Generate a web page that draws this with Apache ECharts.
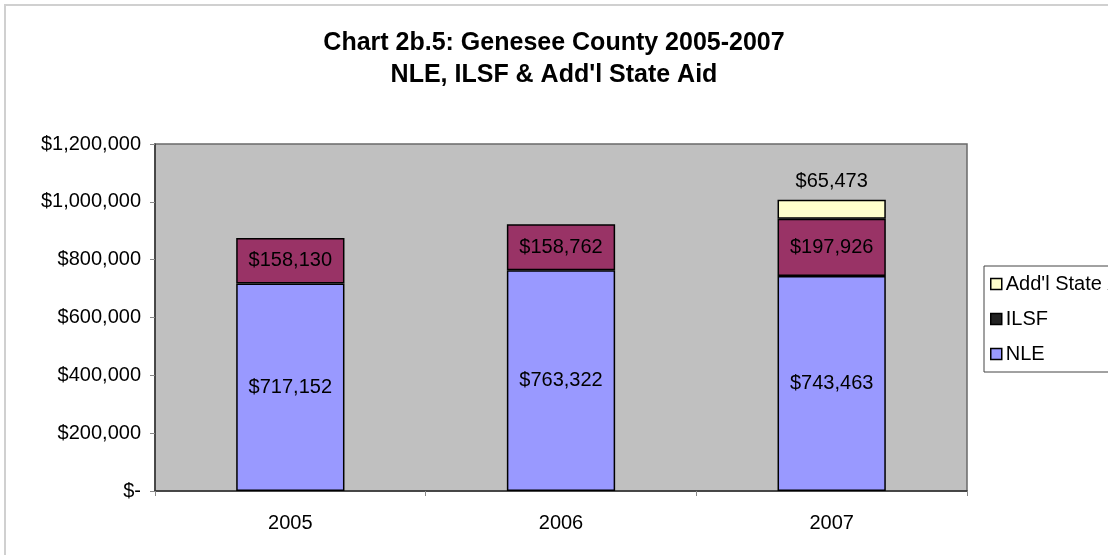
<!DOCTYPE html>
<html>
<head>
<meta charset="utf-8">
<script src="https://cdn.jsdelivr.net/npm/echarts@6/dist/echarts.min.js"></script>
<style>
  html, body { margin: 0; padding: 0; background: #fff; }
  #chart { width: 1108px; height: 555px; }
</style>
</head>
<body>
<div id="chart"></div>
<script>
const years = ['2005', '2006', '2007']
const nle = [717152, 763322, 743463]
const ilsf = [158130, 158762, 197926]
const addlState = [null, null, 65473]

const money = v => '$' + Number(v).toLocaleString('en-US')

const chart = echarts.init(document.getElementById('chart'))
const font = 'Liberation Sans, Arial, sans-serif'

const barBorder = { borderColor: '#000', borderWidth: 1.5 }
const valueLabel = { show: true, fontSize: 20, color: '#000', formatter: p => money(p.value) }

chart.setOption({
  animation: false,
  textStyle: { fontFamily: font },
  title: {
    text: 'Chart 2b.5: Genesee County 2005-2007\nNLE, ILSF & Add\'l State Aid',
    left: 'center',
    top: 22,
    textStyle: { fontSize: 25, fontWeight: 'bold', color: '#000', lineHeight: 32, fontFamily: font }
  },
  graphic: [{
    type: 'rect',
    shape: { x: 5, y: 5, width: 1120, height: 560 },
    style: { fill: 'none', stroke: '#d0d0d0', lineWidth: 2 },
    silent: true
  }],
  legend: {
    orient: 'vertical',
    left: 984,
    top: 266,
    icon: 'rect',
    itemWidth: 11,
    itemHeight: 11,
    itemGap: 15,
    padding: [8, 10, 8, 6],
    borderColor: '#444',
    borderWidth: 1,
    backgroundColor: '#fff',
    textStyle: { fontSize: 20, color: '#000', fontFamily: font, padding: [0, 0, 0, -1] },
    data: [
      { name: 'Add\'l State Aid', itemStyle: { color: '#ffffcc', borderColor: '#000', borderWidth: 1.5 } },
      { name: 'ILSF', itemStyle: { color: '#222', borderColor: '#000', borderWidth: 1.5 } },
      { name: 'NLE', itemStyle: { color: '#9999ff', borderColor: '#000', borderWidth: 1.5 } }
    ]
  },
  grid: {
    left: 155,
    right: 141,
    top: 144,
    bottom: 64,
    show: true,
    backgroundColor: '#c0c0c0',
    borderColor: '#6a6a6a',
    borderWidth: 1.5
  },
  xAxis: {
    type: 'category',
    data: years,
    axisLine: { lineStyle: { color: '#333', width: 1.5 } },
    axisTick: { show: true, length: 5, lineStyle: { color: '#888' } },
    axisLabel: { fontSize: 20, color: '#000', margin: 22 }
  },
  yAxis: {
    type: 'value',
    min: 0,
    max: 1200000,
    interval: 200000,
    splitLine: { show: false },
    axisLine: { show: true, lineStyle: { color: '#333', width: 1.5 } },
    axisTick: { show: true, length: 5, lineStyle: { color: '#888' } },
    axisLabel: {
      fontSize: 20,
      color: '#000',
      margin: 14,
      formatter: v => v === 0 ? '$-' : money(v)
    }
  },
  series: [
    {
      name: 'NLE',
      type: 'bar',
      stack: 'aid',
      barWidth: '40%',
      data: nle,
      itemStyle: Object.assign({ color: '#9999ff' }, barBorder),
      label: Object.assign({ position: 'inside' }, valueLabel)
    },
    {
      name: 'ILSF',
      type: 'bar',
      stack: 'aid',
      data: ilsf,
      itemStyle: Object.assign({ color: '#993366' }, barBorder),
      label: Object.assign({ position: 'inside' }, valueLabel)
    },
    {
      name: 'Add\'l State Aid',
      type: 'bar',
      stack: 'aid',
      data: addlState,
      itemStyle: Object.assign({ color: '#ffffcc' }, barBorder),
      label: Object.assign({ position: 'top', distance: 8 }, valueLabel)
    }
  ]
})
</script>
</body>
</html>
